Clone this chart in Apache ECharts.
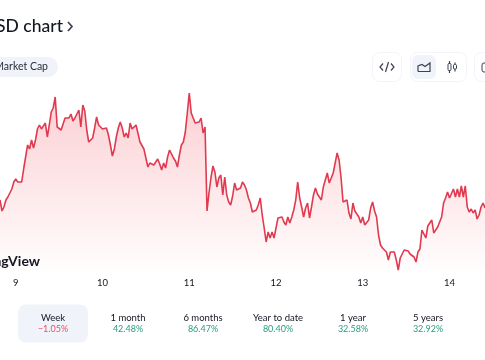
<!DOCTYPE html>
<html>
<head>
<meta charset="utf-8">
<style>
html, body { margin: 0; padding: 0; background: #fff; }
#chart { width: 485px; height: 360px; overflow: hidden; }
</style>
<script src="https://cdn.jsdelivr.net/npm/echarts@6/dist/echarts.min.js"></script>
</head>
<body>
<div id="chart"></div>
<script>
// height of the line above the chart floor, one reading about every 33 minutes
var prices = [
    72, 61, 65, 72, 75, 76, 83, 90, 93, 90, 92, 90, 103, 102, 127, 123, 132, 124, 132, 143,
    147, 143, 145, 149, 135, 147, 160, 164, 175, 145, 147, 142, 140, 154, 154, 154, 158, 151, 154, 152,
    162, 145, 167, 161, 142, 130, 128, 134, 144, 155, 147, 149, 143, 144, 144, 137, 127, 116, 123, 135,
    144, 150, 144, 135, 139, 134, 149, 143, 141, 147, 148, 130, 132, 123, 122, 105, 109, 110, 107, 106,
    113, 108, 102, 109, 104, 115, 122, 124, 114, 111, 105, 117, 127, 130, 140, 159, 179, 159, 154, 149,
    151, 150, 154, 139, 145, 61, 79, 94, 106, 100, 85, 94, 97, 77, 95, 77, 70, 67, 76, 89,
    82, 83, 84, 90, 87, 82, 74, 69, 60, 62, 62, 67, 74, 57, 44, 30, 40, 34, 40, 34,
    44, 54, 54, 55, 50, 47, 55, 49, 55, 62, 72, 90, 74, 65, 55, 64, 69, 54, 65, 77,
    84, 78, 80, 72, 85, 87, 99, 89, 90, 99, 100, 119, 112, 94, 70, 72, 72, 59, 53, 69,
    61, 60, 55, 49, 55, 47, 47, 52, 64, 70, 61, 55, 37, 27, 24, 24, 20, 12, 20, 19,
    20, 12, 2, 14, 14, 22, 23, 21, 18, 17, 15, 10, 20, 23, 42, 40, 34, 46, 45, 52,
    39, 38, 45, 50, 55, 69, 74, 80, 74, 74, 83, 75, 83, 75, 86, 75, 86, 65, 60, 63,
    59, 62, 53, 57, 65, 69, 64
];
var dayLabels = ['9', '10', '11', '12', '13', '14'];
var periods = ['Week', '1 month', '6 months', 'Year to date', '1 year', '5 years'];
var changes = ['\u22121.05%', '42.48%', '86.47%', '80.40%', '32.58%', '32.92%'];

var firstDayIndex = 8;
var samplesPerDay = 44;
var fontName = 'Lato, sans-serif';
var ink = '#131722';
var paleBlue = '#f0f3fa';
var red = '#e8506a';
var green = '#2a9d80';

var categories = prices.map(function (p, i) {
    return 'sample ' + i;
});

function isDayTick(i) {
    return i >= firstDayIndex && (i - firstDayIndex) % samplesPerDay === 0;
}

function label(text, x, y, size, color, align, weight) {
    return {
        type: 'text',
        x: x,
        y: y,
        silent: true,
        style: {
            text: text,
            fill: color,
            font: (weight || 400) + ' ' + size + 'px ' + fontName,
            textAlign: align || 'center',
            textVerticalAlign: 'middle'
        }
    };
}

function box(x, y, w, h, r, fill, stroke) {
    return {
        type: 'rect',
        silent: true,
        shape: { x: x, y: y, width: w, height: h, r: r },
        style: { fill: fill || 'transparent', stroke: stroke || null, lineWidth: 1 }
    };
}

function stroke(points, w) {
    return {
        type: 'polyline',
        silent: true,
        shape: { points: points },
        style: { fill: 'none', stroke: '#3d4250', lineWidth: w || 1.2 }
    };
}

var graphics = [
    label('USD chart', 63, 26, 17.5, ink, 'right', 500),
    stroke([[68, 22], [72, 26.5], [68, 31]], 1.7),
    box(-30, 57, 88, 20, 10, paleBlue),
    label('Market Cap', 48, 67, 10.5, '#2a2e39', 'right'),

    // toolbar
    box(372.5, 52.5, 29, 29, 7, '#fff', '#f3f4f8'),
    stroke([[383, 63.5], [380, 67], [383, 70.5]]),
    stroke([[391, 63.5], [394, 67], [391, 70.5]]),
    stroke([[388.5, 62], [385.5, 72]]),
    box(410.5, 52.5, 56, 29, 7, '#fff', '#f3f4f8'),
    box(412, 55, 24, 24, 6, paleBlue),
    stroke([[418, 71.5], [418, 66], [422, 64.5], [425, 66.5], [430, 63], [430, 71.5], [418, 71.5]]),
    stroke([[449.5, 61], [449.5, 73]]),
    box(448, 63.5, 3, 7, 1, '#fff', '#3d4250'),
    stroke([[455, 62.5], [455, 71.5]]),
    box(453.5, 64.5, 3, 4.5, 1, '#fff', '#3d4250'),
    box(474.5, 52.5, 40, 29, 7, '#fff', '#f3f4f8'),
    box(482, 63, 9, 9, 2, '#fff', '#3d4250'),

    label('TradingView', 40, 261, 14, ink, 'right', 700),

    box(18, 304.5, 70, 38, 8, paleBlue)
];

var tabCenters = [53, 128, 203, 278, 353, 428];
for (var t = 0; t < periods.length; t++) {
    graphics.push(label(periods[t], tabCenters[t], 318, 9.5, ink));
    graphics.push(label(changes[t], tabCenters[t], 329.5, 9, changes[t].charAt(0) === '\u2212' ? red : green));
}

var myChart = echarts.init(document.getElementById('chart'), null, { renderer: 'canvas' });
var option = {
    animation: false,
    backgroundColor: '#fff',
    grid: { left: 0, top: 72, width: 485.4, height: 200 },
    xAxis: {
        type: 'category',
        data: categories,
        boundaryGap: false,
        axisLine: { show: false },
        axisTick: { show: false },
        splitLine: { show: false },
        axisLabel: {
            interval: function (i) {
                return isDayTick(i);
            },
            formatter: function (v, i) {
                return dayLabels[(i - firstDayIndex) / samplesPerDay];
            },
            margin: 6,
            color: ink,
            fontSize: 9.5,
            fontFamily: fontName
        }
    },
    yAxis: {
        type: 'value',
        min: 0,
        max: 200,
        show: false
    },
    series: [{
        type: 'line',
        data: prices,
        symbol: 'none',
        silent: true,
        lineStyle: { color: '#e03a50', width: 1.6 },
        areaStyle: {
            color: new echarts.graphic.LinearGradient(0, 0, 0, 1, [
                { offset: 0, color: 'rgba(242,54,69,0.34)' },
                { offset: 1, color: 'rgba(242,54,69,0.01)' }
            ])
        }
    }],
    graphic: { elements: graphics }
};
myChart.setOption(option);
</script>
</body>
</html>
